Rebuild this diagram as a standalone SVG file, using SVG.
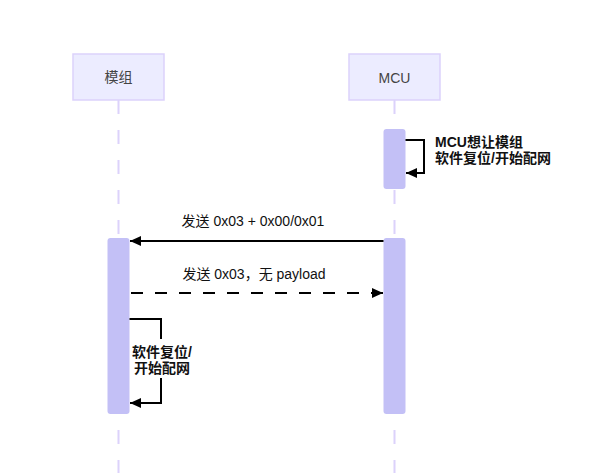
<svg xmlns="http://www.w3.org/2000/svg" width="598" height="473" viewBox="0 0 598 473">
<style>
  text { font-family: "Liberation Sans", "Noto Sans CJK SC", sans-serif; font-size: 14px; }
  .actor { fill: #ececff; stroke: #dcd2fb; stroke-width: 1.5; }
  .actor-text { fill: #444; text-anchor: middle; }
  .lifeline { stroke: #dcd2fb; stroke-width: 2; stroke-dasharray: 14 16; fill: none; }
  .act { fill: #c3c0f6; }
  .msg { stroke: #000; stroke-width: 2; fill: none; }
  .dashed { stroke-dasharray: 12 12; }
  .msg-text { fill: #111; text-anchor: middle; }
  .note-text { fill: #111; font-weight: bold; }
</style>
<defs>
  <marker id="arrow" viewBox="0 0 11 10" refX="11" refY="5" markerWidth="11" markerHeight="10" markerUnits="userSpaceOnUse" orient="auto">
    <path d="M0,0 L11,5 L0,10 z" fill="#000"/>
  </marker>
</defs>
<rect width="598" height="473" fill="#fff"/>

<g id="lifelines">
  <line class="lifeline" x1="118.5" y1="100" x2="118.5" y2="473"/>
  <line class="lifeline" x1="394.5" y1="100" x2="394.5" y2="473"/>
</g>

<g id="actor-module">
  <rect class="actor" x="73" y="54" width="91" height="46"/>
  <text class="actor-text" x="118.5" y="82">模组</text>
</g>
<g id="actor-mcu">
  <rect class="actor" x="349" y="54" width="91" height="46"/>
  <text class="actor-text" x="394.5" y="82.5">MCU</text>
</g>

<g id="activations">
  <rect class="act" x="383.5" y="129" width="22" height="60" rx="3"/>
  <rect class="act" x="383.5" y="238" width="22" height="176" rx="3"/>
  <rect class="act" x="107.5" y="238" width="22" height="176" rx="3"/>
</g>

<g id="connectors">
  <path class="msg" d="M405.5,140 H424 V173 H406" marker-end="url(#arrow)"/>
  <line class="msg" x1="383.5" y1="241" x2="130" y2="241" marker-end="url(#arrow)"/>
  <line class="msg dashed" x1="131" y1="293" x2="383" y2="293" marker-end="url(#arrow)"/>
  <path class="msg" d="M129.5,319 H161 V403 H130" marker-end="url(#arrow)"/>
</g>

<g id="labels">
  <text class="note-text" x="435" y="146.5">MCU想让模组</text>
  <text class="note-text" x="435" y="163">软件复位/开始配网</text>
  <text class="msg-text" x="253" y="226">发送 0x03 + 0x00/0x01</text>
  <text class="msg-text" x="254" y="279">发送 0x03，无 payload</text>
  <rect x="131" y="339" width="62" height="39" fill="#fff"/>
  <text class="note-text" x="162" y="357" text-anchor="middle">软件复位/</text>
  <text class="note-text" x="162" y="373" text-anchor="middle">开始配网</text>
</g>
</svg>
